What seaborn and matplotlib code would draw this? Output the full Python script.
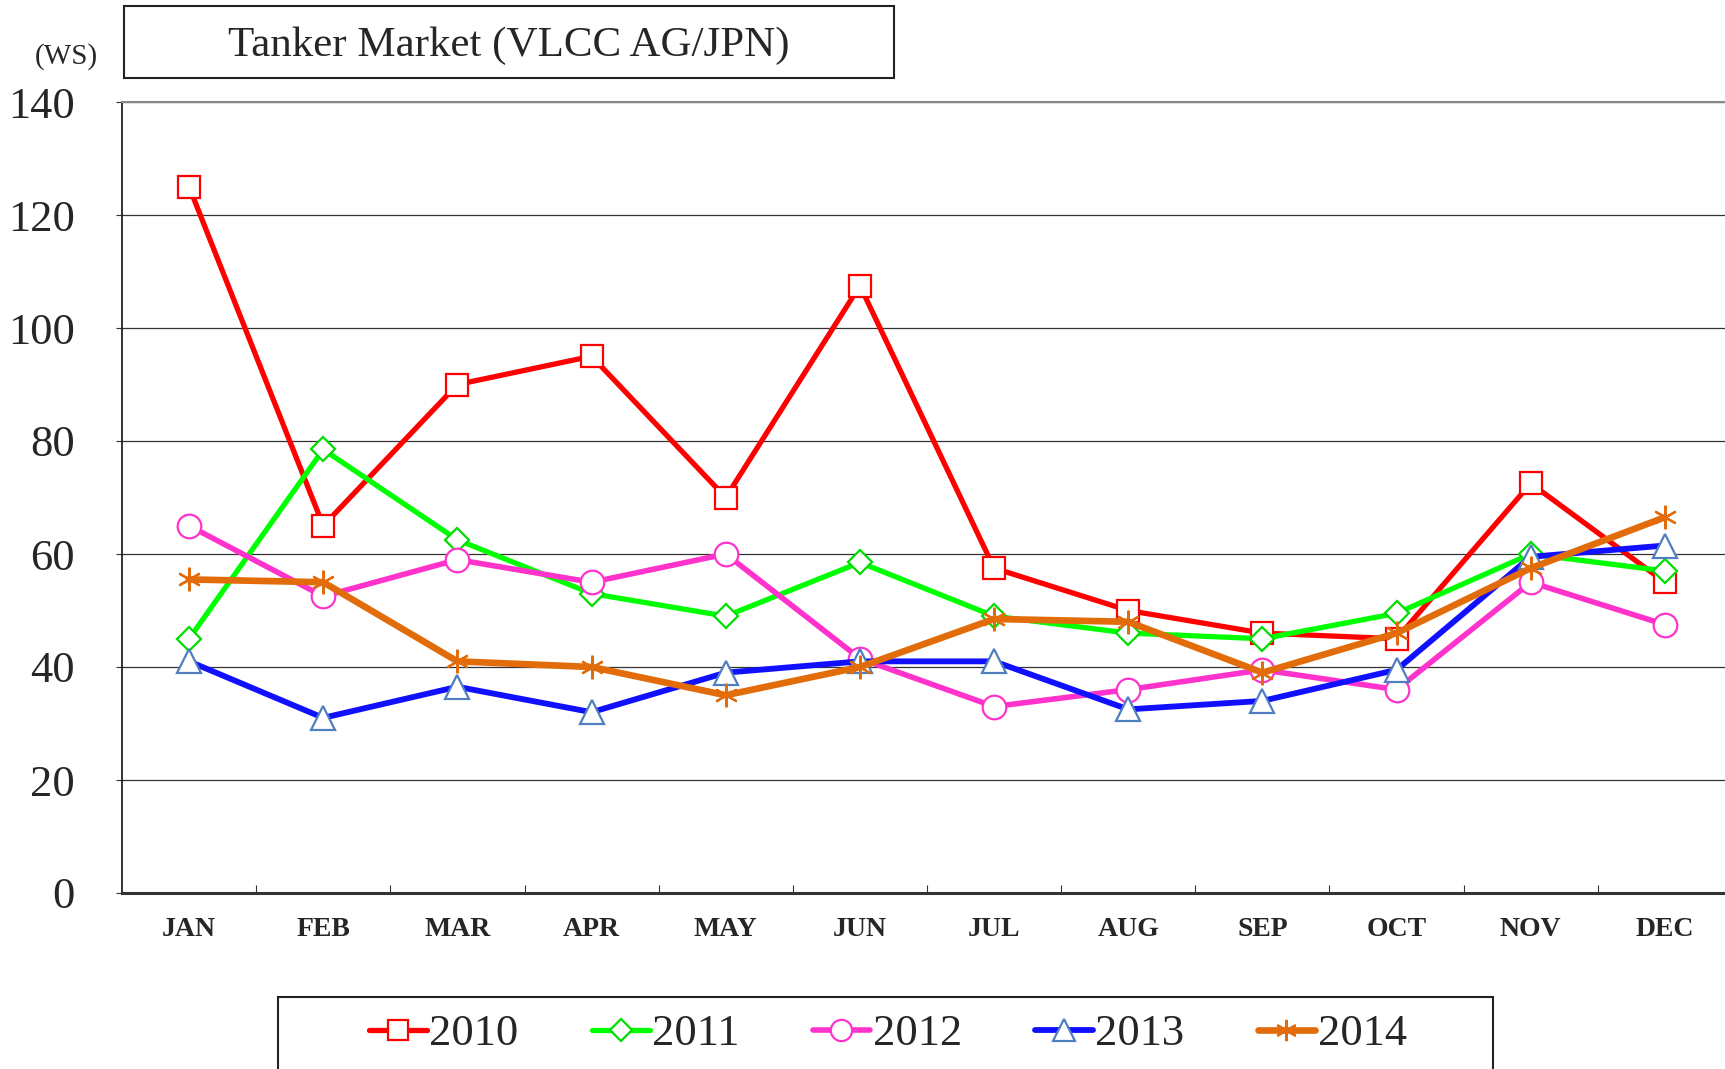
import numpy as np
import pandas as pd
import matplotlib
matplotlib.use("Agg")
import matplotlib.pyplot as plt
from matplotlib.patches import Rectangle
from matplotlib.ticker import FixedLocator
import seaborn as sns

# ── data ─────────────────────────────────────────────────────
months = ["JAN", "FEB", "MAR", "APR", "MAY", "JUN",
          "JUL", "AUG", "SEP", "OCT", "NOV", "DEC"]
ws_2010 = [125, 65, 90, 95, 70, 107.5, 57.5, 50, 46, 45, 72.5, 55]
ws_2011 = [45, 78.5, 62.5, 53, 49, 58.5, 49, 46, 45, 49.5, 60, 57]
ws_2012 = [65, 52.5, 59, 55, 60, 41.5, 33, 36, 39.5, 36, 55, 47.5]
ws_2013 = [41, 31, 36.5, 32, 39, 41, 41, 32.5, 34, 39.5, 59.5, 61.5]
ws_2014 = [55.5, 55, 41, 40, 35, 40, 48.5, 48, 39, 46, 57.5, 66.5]
years = ["2010", "2011", "2012", "2013", "2014"]

# ── styling ──────────────────────────────────────────────────
sns.set_theme(style="white")
plt.rcParams["font.family"] = ["Liberation Serif", "DejaVu Serif"]

styles = {
    "2010": dict(color="#FF0000", marker="s", mec="#FF0000", lw=3.8, ms=16),
    "2011": dict(color="#00FF00", marker="D", mec="#00DD00", lw=3.8, ms=12.5),
    "2012": dict(color="#FF33CC", marker="o", mec="#FF33CC", lw=4.0, ms=17),
    "2013": dict(color="#1010FF", marker="^", mec="#4F7FBF", lw=4.2, ms=17),
    "2014": dict(color="#E36C0A", marker=(6, 2, 0), mec="#E36C0A", lw=4.8, ms=17),
}

df = pd.DataFrame({"month": list(range(12)) * 5,
                   "ws": ws_2010 + ws_2011 + ws_2012 + ws_2013 + ws_2014,
                   "year": np.repeat(years, 12)})

fig = plt.figure(figsize=(17.25, 10.69), dpi=100)
ax = fig.add_axes([122 / 1725, 1 - 893 / 1069, 1610 / 1725, 791 / 1069])

for yr in years:
    st = styles[yr]
    sub = df[df["year"] == yr]
    sns.lineplot(data=sub, x="month", y="ws", ax=ax, color=st["color"],
                 linewidth=st["lw"], marker=st["marker"], markersize=st["ms"],
                 markerfacecolor="white", markeredgecolor=st["mec"],
                 markeredgewidth=1.6, label=yr, zorder=3)

ax.set_xlim(-0.5, 11.5)
ax.set_ylim(0, 140)
ax.set_yticks(np.arange(0, 141, 20))
ax.set_xticks(range(12))
ax.set_xticklabels(months, fontsize=20, fontweight="bold")
ax.xaxis.set_minor_locator(FixedLocator(np.arange(0.5, 11, 1)))
ax.tick_params(axis="x", which="major", length=0, pad=17)
ax.tick_params(axis="x", which="minor", direction="in", length=6,
               width=0.8, color="#333333", bottom=True)
ax.tick_params(axis="y", which="major", direction="out", length=4,
               width=0.8, color="#333333", left=True, labelsize=32, pad=30)
ax.set_xlabel("")
ax.set_ylabel("")
ax.grid(axis="y", color="#333333", linewidth=0.9)
ax.grid(axis="x", visible=False)

ax.spines["left"].set_color("#111111")
ax.spines["left"].set_linewidth(1.2)
ax.spines["bottom"].set_color("#333333")
ax.spines["bottom"].set_linewidth(2.2)
ax.spines["top"].set_color("#888888")
ax.spines["top"].set_linewidth(1.5)
ax.spines["right"].set_visible(False)

# title box
fig.patches.append(Rectangle((124 / 1725, 1 - 78 / 1069), 770 / 1725, 72 / 1069,
                             transform=fig.transFigure, fill=False,
                             edgecolor="#222222", linewidth=1.5))
fig.text(509 / 1725, 1 - 46 / 1069, "Tanker Market (VLCC AG/JPN)",
         ha="center", va="center", fontsize=31)
fig.text(66 / 1725, 1 - 57 / 1069, "(WS)", ha="center", va="center", fontsize=21)

# legend box, running off the bottom of the figure
fig.patches.append(Rectangle((278 / 1725, -0.05), 1215 / 1725, 0.05 + 72 / 1069,
                             transform=fig.transFigure, fill=False,
                             edgecolor="#222222", linewidth=1.5))
ax.get_legend().remove()
handles, labels = ax.get_legend_handles_labels()
fig.legend(handles, labels, ncol=5, loc="center",
           bbox_to_anchor=(888 / 1725, 1 - 1034 / 1069),
           fontsize=32, frameon=False, handlelength=1.3, handletextpad=0.05,
           columnspacing=1.65, borderpad=0, markerscale=0.9)

fig.savefig("out.png", dpi=100)
